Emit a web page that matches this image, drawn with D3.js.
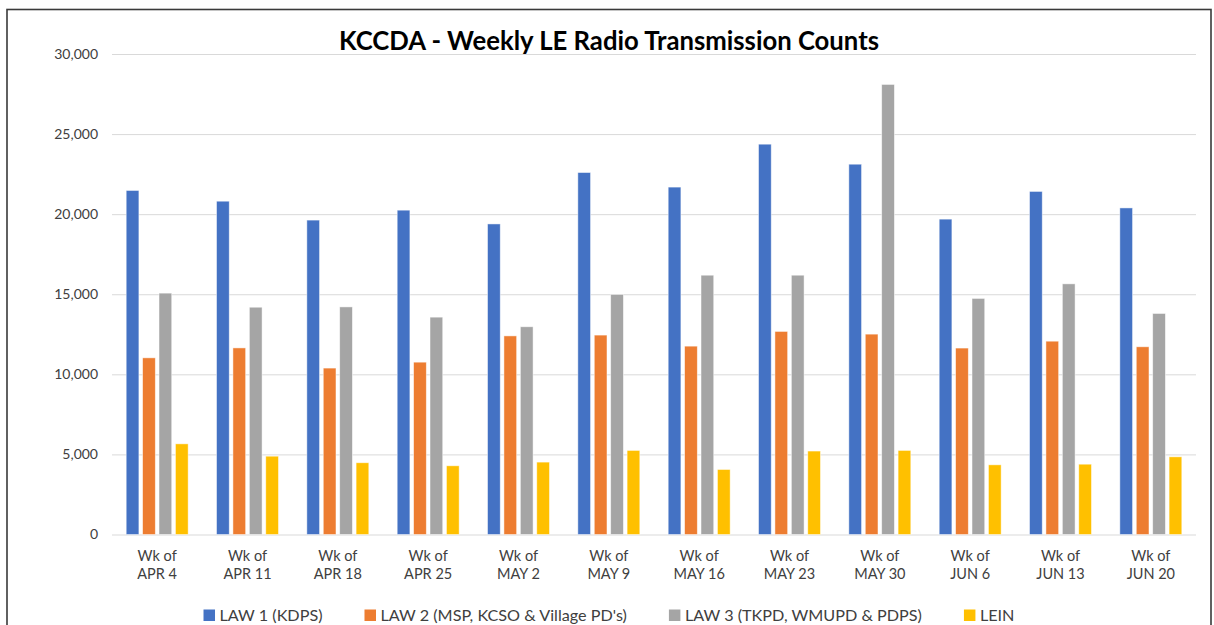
<!DOCTYPE html>
<html>
<head>
<meta charset="utf-8">
<script src="https://cdn.jsdelivr.net/npm/d3@7"></script>
<style>
  html, body { margin: 0; padding: 0; background: #fff; }
  svg { display: block; }
  text { font-family: Lato, "Open Sans", sans-serif; }
</style>
</head>
<body>
<svg id="chart" width="1214" height="625"></svg>
<script>
const categories = [
  ["Wk of", "APR 4"], ["Wk of", "APR 11"], ["Wk of", "APR 18"], ["Wk of", "APR 25"],
  ["Wk of", "MAY 2"], ["Wk of", "MAY 9"], ["Wk of", "MAY 16"], ["Wk of", "MAY 23"],
  ["Wk of", "MAY 30"], ["Wk of", "JUN 6"], ["Wk of", "JUN 13"], ["Wk of", "JUN 20"]
];
const seriesNames = ["LAW 1 (KDPS)", "LAW 2 (MSP, KCSO & Village PD's)", "LAW 3 (TKPD, WMUPD & PDPS)", "LEIN"];
const law1 = [21480, 20810, 19630, 20250, 19390, 22600, 21690, 24370, 23120, 19690, 21420, 20390];
const law2 = [11030, 11650, 10390, 10760, 12400, 12450, 11760, 12680, 12510, 11640, 12070, 11720];
const law3 = [15070, 14190, 14210, 13570, 12970, 14990, 16190, 16190, 28100, 14740, 15650, 13800];
const lein = [5660, 4890, 4480, 4290, 4520, 5250, 4060, 5210, 5250, 4350, 4390, 4850];
const yTicks = [0, 5000, 10000, 15000, 20000, 25000, 30000];
const title = "KCCDA - Weekly LE Radio Transmission Counts";
const colors = ["#4472C4", "#ED7D31", "#A5A5A5", "#FFC000"];

const seriesValues = [law1, law2, law3, lein];
const svg = d3.select("#chart");

// frame
svg.append("rect")
  .attr("x", 7).attr("y", 9.5).attr("width", 1204).attr("height", 640)
  .attr("fill", "#fff").attr("stroke", "#3a3a3a").attr("stroke-width", 1.6);

const plot = { left: 112, right: 1196, top: 54, bottom: 534.5 };

const catKeys = categories.map(c => c.join(" "));
const x0 = d3.scaleBand().domain(catKeys).range([plot.left, plot.right])
  .paddingInner(0.314).paddingOuter(0.157);
const x1 = d3.scaleBand().domain(d3.range(seriesNames.length)).range([0, x0.bandwidth()])
  .paddingInner(0.225).paddingOuter(0);
const y = d3.scaleLinear().domain([0, 30000]).range([plot.bottom, plot.top]);

// gridlines + y labels
const yAxis = d3.axisLeft(y).tickValues(yTicks)
  .tickSize(-(plot.right - plot.left)).tickPadding(14)
  .tickFormat(d3.format(","));
const yg = svg.append("g").attr("transform", `translate(${plot.left},0)`).call(yAxis);
yg.select(".domain").remove();
yg.selectAll(".tick line").attr("stroke", "#d9d9d9").attr("stroke-width", 1);
yg.selectAll(".tick text")
  .attr("font-family", "Lato, 'Open Sans', sans-serif")
  .attr("font-size", 14).attr("fill", "#404040");

// bars
const groups = svg.append("g").selectAll("g")
  .data(categories.map((c, i) => ({ key: catKeys[i], vals: seriesValues.map(s => s[i]) })))
  .join("g")
  .attr("transform", d => `translate(${x0(d.key)},0)`);
groups.selectAll("rect")
  .data(d => d.vals.map((v, j) => ({ v, j })))
  .join("rect")
  .attr("x", d => x1(d.j))
  .attr("width", x1.bandwidth())
  .attr("y", d => y(d.v))
  .attr("height", d => y(0) - y(d.v))
  .attr("fill", d => colors[d.j])
  .attr("stroke", "#ffffff").attr("stroke-opacity", 0.6).attr("stroke-width", 0.8);

// x labels
const xg = svg.append("g");
categories.forEach((c, i) => {
  const cx = x0(catKeys[i]) + x0.bandwidth() / 2;
  const t = xg.append("text").attr("text-anchor", "middle")
    .attr("font-size", 14.5).attr("fill", "#404040");
  t.append("tspan").attr("x", cx).attr("y", 560.5).text(c[0]);
  t.append("tspan").attr("x", cx).attr("y", 579).text(c[1]);
});

// title
svg.append("text").attr("x", 609).attr("y", 49.5).attr("text-anchor", "middle")
  .attr("font-size", 25.7).attr("font-weight", "bold").attr("fill", "#000")
  .text(title);

// legend
const leg = svg.append("g");
const items = seriesNames.map((name, i) => {
  const g = leg.append("g");
  g.append("rect").attr("x", 0).attr("y", 609.5).attr("width", 11.5).attr("height", 11.5).attr("fill", colors[i]);
  const t = g.append("text").attr("x", 16).attr("y", 620.5)
    .attr("font-family", "'Open Sans', Lato, sans-serif")
    .attr("font-size", 16.2).attr("fill", "#404040").text(name);
  return { g, w: 16 + t.node().getComputedTextLength() };
});
const gap = 42;
const total = d3.sum(items, d => d.w) + gap * (items.length - 1);
let cx = 609 - total / 2;
items.forEach(it => { it.g.attr("transform", `translate(${cx},0)`); cx += it.w + gap; });
</script>
</body>
</html>
